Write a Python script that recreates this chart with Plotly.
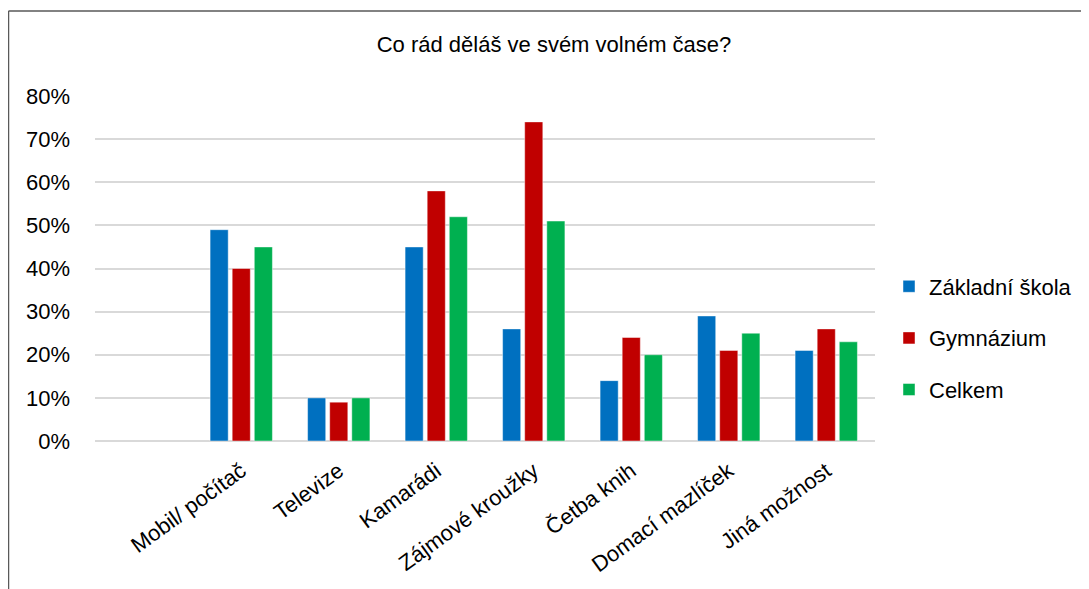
import plotly.graph_objects as go

categories = [" ", "Mobil/ počítač", "Televize", "Kamarádi", "Zájmové kroužky",
              "Četba knih", "Domací mazlíček", "Jiná možnost"]
zakladni_skola = [None, 0.49, 0.10, 0.45, 0.26, 0.14, 0.29, 0.21]
gymnazium = [None, 0.40, 0.09, 0.58, 0.74, 0.24, 0.21, 0.26]
celkem = [None, 0.45, 0.10, 0.52, 0.51, 0.20, 0.25, 0.23]
series_names = ["Základní škola", "Gymnázium", "Celkem"]
colors = ["#0070C0", "#C00000", "#00B050"]

# The page body has an 8px margin; the figure is sized to fill the rest of the window.
OFF = 8
W, H = 1089 - OFF, 589 - OFF
L, R, T, B = 95 - OFF, 214, 96 - OFF, 148
pw, ph = W - L - R, H - T - B

def px_x(px):  # px in window coordinates
    return (px - OFF - L) / pw

def px_y(py):
    return (H - B - (py - OFF)) / ph

fig = go.Figure()
for name, vals, col in zip(series_names, [zakladni_skola, gymnazium, celkem], colors):
    fig.add_trace(go.Bar(
        x=categories, y=vals, name=name, legendgroup=name,
        marker=dict(color=col, line=dict(color="rgba(255,255,255,0.45)", width=1)),
        hovertemplate="%{x}: %{y:.0%}<extra>" + name + "</extra>",
    ))

font_family = "Liberation Sans, Arial, sans-serif"

fig.update_layout(
    width=W, height=H,
    margin=dict(l=L, r=R, t=T, b=B, autoexpand=False),
    paper_bgcolor="white", plot_bgcolor="white",
    font=dict(family=font_family, color="#000000", size=20),
    barmode="group", bargap=0.32, bargroupgap=0.18,
    title=dict(text="Co rád děláš ve svém volném čase?", x=(554 - OFF) / W,
               xanchor="center", y=1 - (44 - OFF) / H, yanchor="middle", yref="container",
               font=dict(size=22, family=font_family, color="#000000")),
    xaxis=dict(type="category", tickangle=-36, tickfont=dict(size=22),
               showgrid=False, showline=False, ticks="", ticklabelstandoff=12),
    yaxis=dict(range=[0, 0.8], dtick=0.1, tickformat=".0%", tickfont=dict(size=22),
               showgrid=True, gridcolor="#D9D9D9", gridwidth=1.5,
               zeroline=True, zerolinecolor="#D9D9D9", zerolinewidth=1.5,
               showline=False, ticks="", ticklabelstandoff=24),
    legend=dict(x=px_x(889), xanchor="left", y=px_y(338), yanchor="middle",
                font=dict(size=22), tracegroupgap=20, bgcolor="rgba(0,0,0,0)"),
    showlegend=True,
)

# outer chart frame (left and top edges visible in the reference)
fig.add_shape(type="line", xref="paper", yref="paper",
              x0=px_x(8.5), x1=px_x(8.5), y0=px_y(11), y1=px_y(600),
              line=dict(color="#595959", width=1.5))
fig.add_shape(type="line", xref="paper", yref="paper",
              x0=px_x(8.5), x1=px_x(1100), y0=px_y(11), y1=px_y(11),
              line=dict(color="#595959", width=1.5))

fig.write_html("out.html")
